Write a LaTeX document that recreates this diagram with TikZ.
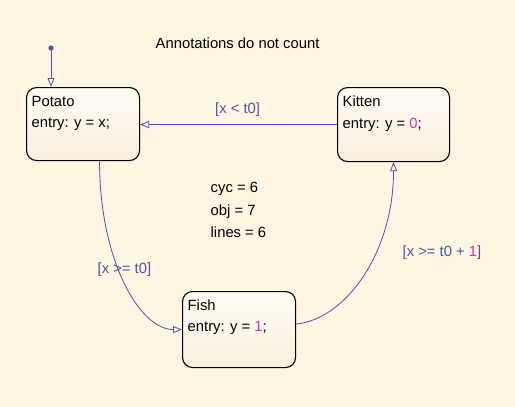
\documentclass[tikz,border=0pt]{standalone}
\usepackage{fontspec}
\setmainfont{Liberation Sans}
\usetikzlibrary{arrows.meta}
\definecolor{bg}{RGB}{254,245,227}
\definecolor{boxtop}{RGB}{255,252,245}
\definecolor{boxbot}{RGB}{249,239,221}
\definecolor{trans}{RGB}{78,82,168}
\definecolor{lbl}{RGB}{80,84,160}
\definecolor{num}{RGB}{196,52,196}
\begin{document}
\begin{tikzpicture}[x=1pt,y=-1pt,
  statebox/.style={draw=black, line width=1.1pt, rounded corners=10pt,
    top color=boxtop, bottom color=boxbot, inner sep=0pt, anchor=north west},
  txt/.style={font=\fontsize{14.8}{17}\selectfont, inner sep=0pt, anchor=base west},
  lbltxt/.style={txt, text=lbl, anchor=west},
  trarrow/.style={draw=trans, line width=0.8pt, -{Triangle[open, length=9pt, width=7pt]}}
]
\useasboundingbox[fill=bg] (0,0) rectangle (515,407);

% states
\node[statebox, minimum width=113pt, minimum height=73pt] (potato) at (26,87) {};
\node[statebox, minimum width=112pt, minimum height=74pt] (kitten) at (337,87) {};
\node[statebox, minimum width=113pt, minimum height=76pt] (fish) at (182,291) {};

\node[txt] (potatoname) at ([xshift=5.5pt,yshift=-19pt]potato.north west) {Potato};
\node[txt] (potatoentry) at ([xshift=5.5pt,yshift=-40pt]potato.north west) {entry: y = x;};
\node[txt] (kittenname) at ([xshift=5.5pt,yshift=-19.5pt]kitten.north west) {Kitten};
\node[txt] (kittenentry) at ([xshift=5.5pt,yshift=-41pt]kitten.north west) {entry: y = \textcolor{num}{0};};
\node[txt] (fishname) at ([xshift=5.5pt,yshift=-19pt]fish.north west) {Fish};
\node[txt] (fishentry) at ([xshift=5.5pt,yshift=-40.5pt]fish.north west) {entry: y = \textcolor{num}{1};};

% annotations
\node[txt] (annot) at (155.5,48.5) {Annotations do not count};
\node[txt] (cyc) at (210.5,192.5) {cyc = 6};
\node[txt] (obj) at (210.5,215) {obj = 7};
\node[txt] (lines) at (210.5,237) {lines = 6};

% default transition
\fill[trans] (51,48) circle (2.6pt) coordinate (dot);
\draw[trarrow] (dot) -- (dot |- potato.north);

% transitions
\draw[trarrow] (kitten.west) -- (kitten.west -| potato.east);
\coordinate (pstart) at ([xshift=16.5pt]potato.south);
\draw[trarrow] (pstart) .. controls ++(0,100) and ++(-42,0) .. (fish.west);
\coordinate (fstart) at ([yshift=5.5pt]fish.east);
\draw[trarrow] (fstart) .. controls ++(50,-5) and ++(0,90) .. (kitten.south);

% guards
\node[lbltxt] (g1) at (215,110) {[x < t0]};
\node[lbltxt] (g2) at (97.5,270) {[x >= t0]};
\node[lbltxt] (g3) at (402.5,253) {[x >= t0 + \textcolor{num}{1}]};
\end{tikzpicture}
\end{document}
